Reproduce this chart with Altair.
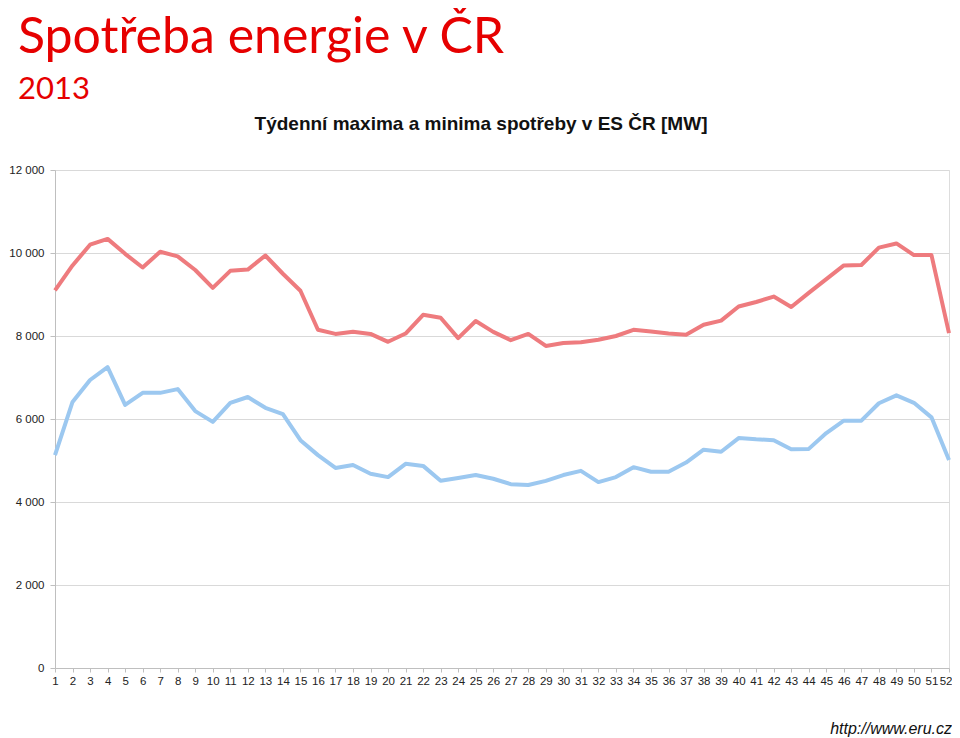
import altair as alt
import pandas as pd

weeks = list(range(1, 53))
maxima = [9100, 9700, 10200, 10340, 9980, 9650, 10030, 9920, 9590, 9160,
          9570, 9600, 9940, 9500, 9090, 8150, 8050, 8100, 8050, 7860,
          8060, 8510, 8440, 7950, 8360, 8100, 7900, 8050, 7760, 7830,
          7850, 7910, 8000, 8150, 8110, 8060, 8030, 8270, 8370, 8710,
          8820, 8950, 8700, 9040, 9370, 9700, 9710, 10130, 10230, 9950,
          9950, 8070]
minima = [5130, 6410, 6940, 7250, 6340, 6630, 6630, 6720, 6190, 5930,
          6390, 6530, 6270, 6120, 5490, 5130, 4820, 4890, 4680, 4600,
          4920, 4870, 4510, 4580, 4650, 4560, 4430, 4410, 4510, 4650,
          4750, 4480, 4600, 4840, 4730, 4730, 4950, 5260, 5210, 5540,
          5510, 5490, 5270, 5280, 5660, 5960, 5960, 6380, 6570, 6390,
          6040, 5010]
series_names = ["maxima", "minima"]
series_colors = ["#EE7B7E", "#9CC8F0"]
y_ticks = [0, 2000, 4000, 6000, 8000, 10000, 12000]

title_text = "Spotřeba energie v ČR"
year_text = "2013"
subtitle_text = "Týdenní maxima a minima spotřeby v ES ČR [MW]"
footer_text = "http://www.eru.cz"

df = pd.DataFrame({
    "week": weeks * 2,
    "value": maxima + minima,
    "series": [series_names[0]] * len(weeks) + [series_names[1]] * len(weeks),
})

W, H = 894, 498
RIGHT = 3

lines = alt.Chart(df).mark_line(strokeWidth=4, strokeJoin="round").encode(
    x=alt.X("week:Q",
            scale=alt.Scale(domain=[1, 52], nice=False, zero=False),
            axis=alt.Axis(values=weeks, title=None, grid=False,
                          labelFont="Liberation Sans", labelFontSize=11.5,
                          labelColor="#222222", labelPadding=3,
                          labelAlign=alt.expr("datum.value == 52 ? 'right' : 'center'"),
                          labelOffset=alt.expr("datum.value == 52 ? 3 : 0"),
                          tickSize=4, tickColor="#bfbfbf",
                          domainColor="#bfbfbf", labelOverlap=False,
                          labelFlush=False)),
    y=alt.Y("value:Q",
            scale=alt.Scale(domain=[0, 12000], nice=False),
            axis=alt.Axis(values=y_ticks, title=None,
                          labelExpr="replace(format(datum.value, ',d'), ',', ' ')",
                          labelFont="Liberation Sans", labelFontSize=11.5,
                          labelColor="#222222", labelPadding=6,
                          tickSize=5, tickColor="#bfbfbf",
                          domainColor="#bfbfbf",
                          gridColor="#d9d9d9", gridWidth=1)),
    color=alt.Color("series:N",
                    scale=alt.Scale(domain=series_names, range=series_colors),
                    legend=None),
)

title_mark = alt.Chart(pd.DataFrame({"t": [title_text]})).mark_text(
    align="left", baseline="alphabetic", font="Lato", fontSize=50,
    color="#E60000").encode(text="t:N", x=alt.value(-37), y=alt.value(-117))
year_mark = alt.Chart(pd.DataFrame({"t": [year_text]})).mark_text(
    align="left", baseline="alphabetic", font="Lato", fontSize=31,
    color="#E60000").encode(text="t:N", x=alt.value(-37), y=alt.value(-71))
sub_mark = alt.Chart(pd.DataFrame({"t": [subtitle_text]})).mark_text(
    align="center", baseline="alphabetic", font="Liberation Sans",
    fontWeight="bold", fontSize=19, color="#111111").encode(
    text="t:N", x=alt.value(426), y=alt.value(-40))
foot_mark = alt.Chart(pd.DataFrame({"t": [footer_text]})).mark_text(
    align="right", baseline="alphabetic", font="Liberation Sans",
    fontStyle="italic", fontSize=16, color="#111111").encode(
    text="t:N", x=alt.value(W + RIGHT), y=alt.value(564))

chart = alt.layer(lines, title_mark, year_mark, sub_mark, foot_mark).properties(
    width=W, height=H,
    autosize=alt.AutoSizeParams(type="none"),
    padding={"left": 47, "top": 162, "right": RIGHT, "bottom": 70},
).configure_view(stroke=None).configure(background="white")

chart.save("out.html", embed_options={"renderer": "svg", "actions": False})
